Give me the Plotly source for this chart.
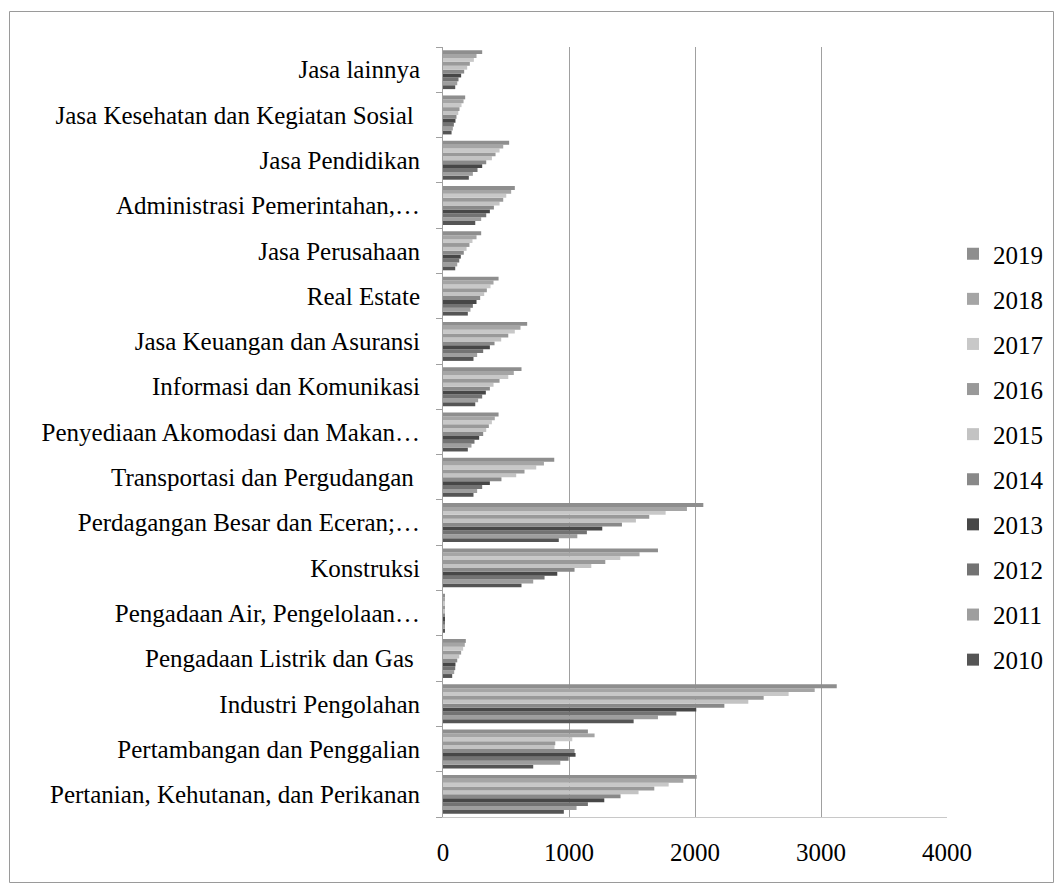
import plotly.graph_objects as go

categories = [
    "Pertanian, Kehutanan, dan Perikanan",
    "Pertambangan dan Penggalian",
    "Industri Pengolahan",
    "Pengadaan Listrik dan Gas\u00a0",
    "Pengadaan Air, Pengelolaan…",
    "Konstruksi",
    "Perdagangan Besar dan Eceran;…",
    "Transportasi dan Pergudangan\u00a0",
    "Penyediaan Akomodasi dan Makan…",
    "Informasi dan Komunikasi",
    "Jasa Keuangan dan Asuransi",
    "Real Estate",
    "Jasa Perusahaan",
    "Administrasi Pemerintahan,…",
    "Jasa Pendidikan",
    "Jasa Kesehatan dan Kegiatan Sosial\u00a0",
    "Jasa lainnya",
]

years = ["2010", "2011", "2012", "2013", "2014", "2015", "2016", "2017", "2018", "2019"]

v2010 = [959, 716, 1513, 73, 8, 623, 919, 242, 197, 256, 242, 197, 97, 256, 205, 68, 97]
v2011 = [1060, 931, 1706, 89, 8, 716, 1066, 271, 226, 279, 271, 218, 113, 303, 237, 78, 113]
v2012 = [1150, 997, 1852, 97, 9, 806, 1142, 311, 250, 311, 319, 237, 129, 343, 274, 86, 123]
v2013 = [1280, 1052, 2010, 99, 9, 907, 1264, 372, 287, 340, 372, 266, 141, 372, 311, 99, 144]
v2014 = [1409, 1044, 2233, 113, 10, 1044, 1420, 464, 319, 372, 409, 295, 165, 404, 343, 107, 168]
v2015 = [1552, 885, 2423, 129, 10, 1177, 1531, 581, 343, 401, 462, 327, 187, 449, 388, 121, 192]
v2016 = [1677, 891, 2545, 144, 11, 1288, 1637, 647, 364, 449, 518, 348, 210, 478, 417, 131, 213]
v2017 = [1791, 1026, 2743, 160, 11, 1407, 1767, 740, 388, 518, 570, 377, 234, 502, 449, 147, 245]
v2018 = [1907, 1203, 2950, 173, 12, 1560, 1936, 801, 411, 562, 615, 401, 266, 541, 478, 163, 266]
v2019 = [2013, 1150, 3125, 181, 12, 1706, 2066, 883, 441, 623, 668, 441, 303, 570, 525, 176, 311]

series = [v2010, v2011, v2012, v2013, v2014, v2015, v2016, v2017, v2018, v2019]
colors = ["#555555", "#9e9e9e", "#737373", "#474747", "#898989",
          "#c3c3c3", "#999999", "#c8c8c8", "#a5a5a5", "#8e8e8e"]

W, H = 1063, 893
L, R, T, B = 443, 947, 47, 817

def xp(px):
    return (px - L) / (R - L)

def yp(py):
    return (B - py) / (B - T)

FONT = "Liberation Serif, Times New Roman, serif"
FS = 25

fig = go.Figure()
for i, (yr, vals, col) in enumerate(zip(years, series, colors)):
    fig.add_trace(go.Bar(
        y=categories, x=vals, name=yr, orientation="h",
        marker=dict(color=col, line=dict(width=0)),
        legendgroup=yr, legendrank=100 - i,
    ))

fig.update_layout(
    width=W, height=H,
    margin=dict(l=L, r=W - R, t=T, b=H - B, pad=0),
    paper_bgcolor="white", plot_bgcolor="white",
    barmode="group", bargap=0.14, bargroupgap=0,
    font=dict(family=FONT, size=FS, color="#000000"),
    legend=dict(
        x=xp(953), xanchor="left", y=yp(457), yanchor="middle",
        traceorder="grouped", tracegroupgap=9.6,
        font=dict(family=FONT, size=FS, color="#000000"),
        bgcolor="rgba(0,0,0,0)",
    ),
    xaxis=dict(
        range=[0, 4000], dtick=1000, tick0=0,
        showgrid=True, gridcolor="#a0a0a0", gridwidth=1,
        zeroline=False, showline=True, linecolor="#c8c8c8", linewidth=1,
        ticks="", ticklabelstandoff=13,
        tickfont=dict(family=FONT, size=FS),
    ),
    yaxis=dict(
        categoryorder="array", categoryarray=categories,
        showgrid=False, zeroline=False,
        showline=True, linecolor="#a0a0a0", linewidth=1,
        ticks="outside", tickson="boundaries", ticklen=6, tickcolor="#a0a0a0",
        ticklabelstandoff=17,
        tickfont=dict(family=FONT, size=FS),
    ),
    shapes=[dict(
        type="rect", xref="paper", yref="paper",
        x0=xp(9.5), x1=xp(1053.5), y0=yp(882.5), y1=yp(11.5),
        line=dict(color="#9a9a9a", width=1), fillcolor="rgba(0,0,0,0)",
        layer="below",
    )],
)

fig.write_html("out.html",
               config={"displayModeBar": False},
               post_script="document.body.style.margin='0';document.body.style.overflow='hidden';")
